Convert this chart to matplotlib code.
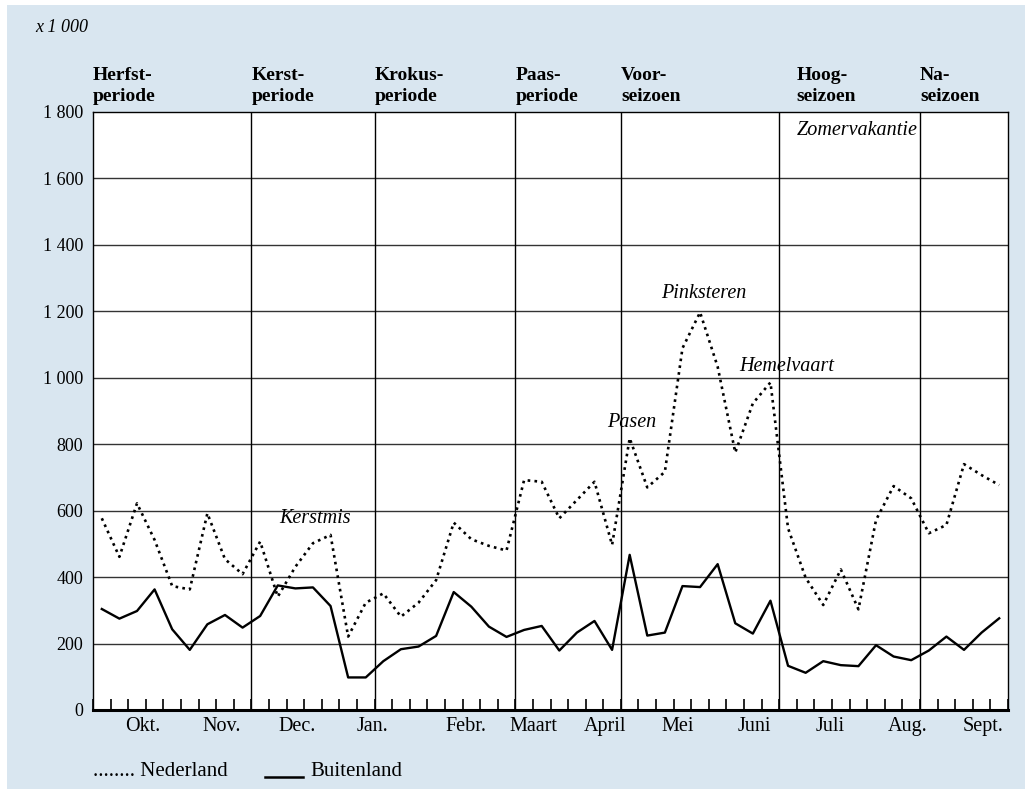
import matplotlib
matplotlib.use("Agg")
import matplotlib.pyplot as plt
import matplotlib.transforms as mtransforms
from matplotlib.lines import Line2D
from matplotlib.patches import Rectangle

# weekly values (x 1 000), week 0 = first week of season (late september)
nederland = [577, 461, 622, 512, 373, 363, 592, 454, 409, 507,
             341, 431, 502, 527, 221, 323, 351, 281, 323, 391,
             564, 514, 494, 480, 692, 687, 577, 632, 687, 497,
             818, 670, 717, 1089, 1197, 1033, 775, 923, 986, 547,
             398, 316, 423, 303, 572, 674, 637, 532, 557, 740,
             707, 677]
buitenland = [304, 275, 298, 363, 243, 181, 258, 286, 248, 283,
              375, 366, 369, 313, 98, 98, 147, 183, 191, 223,
              355, 311, 251, 220, 241, 253, 179, 233, 268, 181,
              467, 224, 233, 373, 370, 439, 261, 230, 329, 133,
              112, 147, 135, 132, 195, 161, 150, 179, 221, 181,
              233, 276]

maanden = ["Okt.", "Nov.", "Dec.", "Jan.", "Febr.", "Maart", "April",
           "Mei", "Juni", "Juli", "Aug.", "Sept."]
maand_pos = [2.8, 7.3, 11.6, 15.9, 21.2, 25.0, 29.1, 33.2, 37.6, 41.9, 46.3, 50.6]

perioden = ["Herfst-\nperiode", "Kerst-\nperiode", "Krokus-\nperiode", "Paas-\nperiode",
            "Voor-\nseizoen", "Hoog-\nseizoen", "Na-\nseizoen"]
periode_pos = [0, 9, 16, 24, 30, 40, 47]
grenzen = [9, 16, 24, 30, 39, 47]

y_ticks = [0, 200, 400, 600, 800, 1000, 1200, 1400, 1600, 1800]
y_labels = ["0", "200", "400", "600", "800", "1 000", "1 200", "1 400", "1 600", "1 800"]

plt.rcParams['font.family'] = ['Liberation Serif', 'DejaVu Serif']
fs = 13      # cijfers
fw = 14.5    # woorden

fig = plt.figure(figsize=(10.25, 7.89), dpi=100)
fig.patch.set_facecolor("white")
fig.patches.append(Rectangle((7 / 1025, 0), 1, 1 - 5 / 789, transform=fig.transFigure,
                             facecolor="#d9e6f0", edgecolor="none", zorder=-10))

ax = fig.add_axes([93 / 1025, 1 - 710 / 789, 915 / 1025, 598 / 789])
ax.set_facecolor("white")

weken = [k + 0.5 for k in range(len(nederland))]
ax.plot(weken, nederland, color="black", linestyle=(0, (1, 1.6)), linewidth=1.9, zorder=3)
ax.plot(weken, buitenland, color="black", linestyle="-", linewidth=1.7, zorder=3)

ax.set_xlim(0, 52)
ax.set_ylim(0, 1800)

for y in y_ticks[1:-1]:
    ax.axhline(y, color="#333333", linewidth=1.0, zorder=1)
for g in grenzen:
    ax.axvline(g, color="black", linewidth=1.0, zorder=1)

ax.set_yticks(y_ticks)
ax.set_yticklabels(y_labels, fontsize=fs)
ax.tick_params(axis="y", length=0, pad=7)
ax.set_xticks(range(0, 53))
ax.set_xticklabels([])
ax.tick_params(axis="x", direction="in", length=8, width=1.2, color="black")

for s in ["top", "left", "right"]:
    ax.spines[s].set_linewidth(1.0)
ax.spines["bottom"].set_linewidth(2.2)

trans = mtransforms.blended_transform_factory(ax.transData, ax.transAxes)
for m, p in zip(maanden, maand_pos):
    ax.text(p, -0.027, m, transform=trans, ha="center", va="center", fontsize=fw)

for t, p in zip(perioden, periode_pos):
    ax.text(p, 1.012, t, transform=trans, ha="left", va="bottom", fontsize=14,
            fontweight="bold", linespacing=1.3)

ax.text(40.0, 1745, "Zomervakantie", style="italic", fontsize=fw, ha="left", va="center")
ax.text(10.6, 575, "Kerstmis", style="italic", fontsize=fw, ha="left", va="center")
ax.text(32.3, 1255, "Pinksteren", style="italic", fontsize=fw, ha="left", va="center")
ax.text(36.7, 1035, "Hemelvaart", style="italic", fontsize=fw, ha="left", va="center")
ax.text(29.2, 865, "Pasen", style="italic", fontsize=fw, ha="left", va="center")

fig.text(35 / 1025, 1 - 27 / 789, "x 1 000", style="italic", fontsize=fs, ha="left", va="center")

# legenda
fig.text(93 / 1025, 1 - 772 / 789, "........ Nederland", fontsize=15, ha="left", va="center")
fig.lines.append(Line2D([265 / 1025, 303 / 1025], [1 - 777 / 789, 1 - 777 / 789],
                        transform=fig.transFigure, color="black", linewidth=1.8))
fig.text(310 / 1025, 1 - 772 / 789, "Buitenland", fontsize=15, ha="left", va="center")

fig.savefig("out.png", dpi=100)
